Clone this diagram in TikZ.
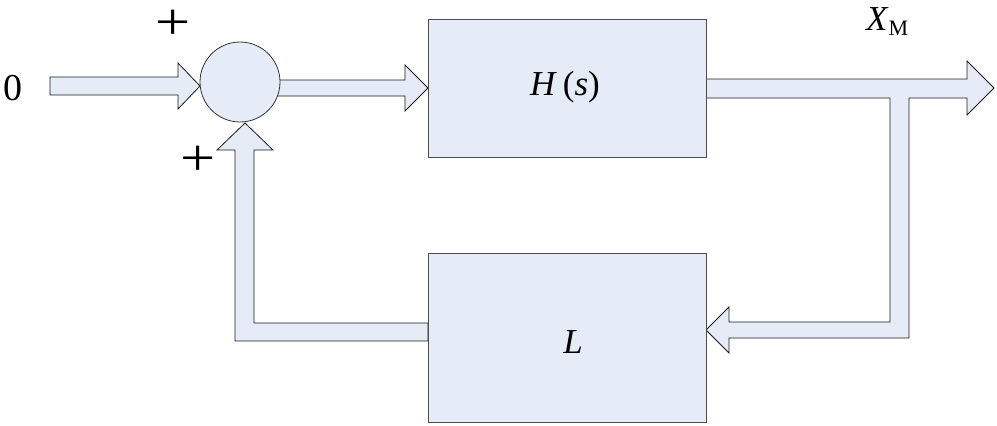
\documentclass[tikz,border=0pt]{standalone}
\usepackage{fontspec}
\setmainfont{Liberation Serif}
\definecolor{blockfill}{RGB}{230,236,247}
\begin{document}
\begin{tikzpicture}[x=1pt,y=-1pt,
  blk/.style={draw=black!70,fill=blockfill,line width=0.8pt,rectangle,inner sep=0pt},
  sumnode/.style={draw=black!80,fill=blockfill,line width=0.8pt,circle,inner sep=0pt,minimum size=80pt},
  fatarrow/.style={draw=black!90,fill=blockfill,line width=0.8pt,line join=miter},
  lbl/.style={font=\fontsize{35}{37}\selectfont,inner sep=0pt},
  sgn/.style={font=\fontsize{52}{52}\selectfont,inner sep=0pt}]
\useasboundingbox (0,0) rectangle (997,426);
% arrows (drawn first, blocks on top)
\draw[fatarrow] (50,77) -- (178,77) -- (178,63) -- (200,86) -- (178,109) -- (178,95) -- (50,95) -- cycle;
\draw[fatarrow] (276,80) -- (405,80) -- (405,65) -- (428,88) -- (405,111) -- (405,96) -- (276,96) -- cycle;
\draw[fatarrow] (706,79) -- (967,79) -- (967,61) -- (994,88) -- (967,115) -- (967,98) -- (909,98)
  -- (909,338) -- (729,338) -- (729,353) -- (706,330) -- (729,307) -- (729,322) -- (890,322) -- (890,98) -- (706,98) -- cycle;
\draw[fatarrow] (428,341) -- (235,341) -- (235,150) -- (217,150) -- (245,123) -- (273,150) -- (254,150) -- (254,323) -- (428,323) -- cycle;
% blocks
\node[sumnode] (sum) at (240,82) {};
\node[blk,minimum width=278pt,minimum height=138pt] (H) at (567,88) {};
\node[blk,minimum width=278pt,minimum height=169pt] (L) at (567,337.5) {};
% labels
\node[lbl,anchor=base,font=\fontsize{38}{40}\selectfont] (zero) at (13,100) {0};
\node[lbl,anchor=base] (Hs) at (565,95) {\textit{H}\,(\textit{s})};
\node[lbl,anchor=base] (Ll) at (573,353) {\textit{L}};
\node[lbl,anchor=base west] (XM) at (866,30) {\textit{X}\raisebox{-5pt}{\fontsize{22}{22}\selectfont M}};
\node[sgn] (p1) at (173,25) {\scalebox{1.2}[1]{+}};
\node[sgn] (p2) at (198,161) {\scalebox{1.2}[1]{+}};
\end{tikzpicture}
\end{document}
